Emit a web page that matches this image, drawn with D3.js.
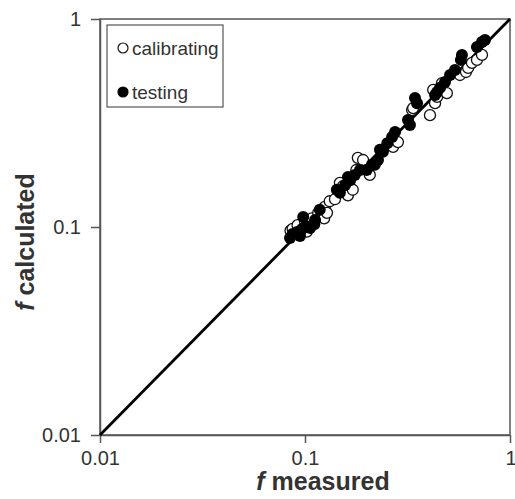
<!DOCTYPE html>
<html>
<head>
<meta charset="utf-8">
<script src="https://cdn.jsdelivr.net/npm/d3@7"></script>
<style>
  body { margin: 0; background: #fff; }
  text { font-family: "Liberation Sans", Arial, sans-serif; fill: #333; }
</style>
</head>
<body>
<svg id="chart" width="515" height="499"></svg>
<script>
let width = 515,
  height = 499;
let margin = { left: 100, right: 5, top: 19, bottom: 64 };

// calibrating data set: [f measured, f calculated]
let calibrating = [
  [0.085, 0.096], [0.087, 0.098], [0.092, 0.102], [0.100, 0.106], [0.102, 0.095],
  [0.108, 0.110], [0.116, 0.117], [0.121, 0.112], [0.124, 0.110], [0.125, 0.125],
  [0.128, 0.117], [0.132, 0.133], [0.140, 0.136], [0.148, 0.163], [0.153, 0.157],
  [0.162, 0.142], [0.171, 0.151], [0.178, 0.188], [0.181, 0.215], [0.192, 0.210],
  [0.207, 0.178], [0.269, 0.243], [0.284, 0.256], [0.333, 0.365], [0.337, 0.373],
  [0.407, 0.345], [0.431, 0.394], [0.441, 0.422], [0.422, 0.456], [0.466, 0.492],
  [0.492, 0.440], [0.570, 0.538], [0.610, 0.556], [0.625, 0.582], [0.652, 0.615],
  [0.690, 0.636], [0.730, 0.672]
];

// testing data set: [f measured, f calculated]
let testing = [
  [0.0845, 0.0886], [0.087, 0.0925], [0.0915, 0.0946], [0.0946, 0.0905], [0.0967, 0.0978],
  [0.101, 0.101], [0.106, 0.099], [0.111, 0.103], [0.112, 0.108], [0.098, 0.1117],
  [0.118, 0.121], [0.143, 0.151], [0.148, 0.146], [0.157, 0.159], [0.162, 0.174],
  [0.166, 0.168], [0.175, 0.178], [0.1855, 0.188], [0.200, 0.188], [0.212, 0.199],
  [0.219, 0.199], [0.227, 0.210], [0.232, 0.235], [0.240, 0.230], [0.252, 0.253],
  [0.266, 0.271], [0.275, 0.286], [0.318, 0.327], [0.325, 0.309], [0.344, 0.417],
  [0.352, 0.394], [0.431, 0.431], [0.441, 0.446], [0.456, 0.467], [0.482, 0.498],
  [0.510, 0.538], [0.539, 0.569], [0.576, 0.636], [0.583, 0.672], [0.690, 0.734],
  [0.730, 0.776], [0.755, 0.793]
];

let ticks = [0.01, 0.1, 1];
let tick_labels = ["0.01", "0.1", "1"];
let one_to_one = [0.01, 1];

let svg = d3.select("#chart");

let scales = {
  x: d3.scaleLog().domain([0.01, 1]).range([margin.left, width - margin.right]),
  y: d3.scaleLog().domain([0.01, 1]).range([height - margin.bottom, margin.top])
};

let axis = {
  x: d3.axisBottom(scales.x).tickValues(ticks).tickFormat((d, i) => tick_labels[i])
    .tickSizeInner(8).tickSizeOuter(0).tickPadding(8),
  y: d3.axisLeft(scales.y).tickValues(ticks).tickFormat((d, i) => tick_labels[i])
    .tickSizeInner(9).tickSizeOuter(0).tickPadding(10)
};

// frame
svg.append("rect")
  .attr("x", scales.x(0.01))
  .attr("y", scales.y(1))
  .attr("width", scales.x(1) - scales.x(0.01))
  .attr("height", scales.y(0.01) - scales.y(1))
  .attr("fill", "none")
  .attr("stroke", "#555")
  .attr("stroke-width", 1.5);

let gx = svg.append("g")
  .attr("transform", `translate(0,${scales.y(0.01)})`)
  .call(axis.x);
let gy = svg.append("g")
  .attr("transform", `translate(${scales.x(0.01)},0)`)
  .call(axis.y);

[gx, gy].forEach(g => {
  g.select(".domain").attr("stroke", "#555").attr("stroke-width", 1.5);
  g.selectAll(".tick line").attr("stroke", "#555").attr("stroke-width", 1.5);
  g.selectAll(".tick text")
    .attr("font-family", "Liberation Sans, Arial, sans-serif")
    .attr("font-size", 20)
    .attr("fill", "#333");
});
gx.selectAll(".tick text").filter(d => d == 1).attr("text-anchor", "end").attr("dx", 6);

// 1:1 line
let line_gen = d3.line()
  .x(d => scales.x(d))
  .y(d => scales.y(d));

svg.append("path")
  .attr("d", line_gen(one_to_one))
  .attr("stroke", "#000")
  .attr("stroke-width", 2.8)
  .attr("fill", "none");

// points
svg.append("g").selectAll("circle")
  .data(calibrating).enter()
  .append("circle")
  .attr("cx", d => scales.x(d[0]))
  .attr("cy", d => scales.y(d[1]))
  .attr("r", 5.5)
  .attr("fill", "#fff")
  .attr("stroke", "#111")
  .attr("stroke-width", 1.3);

svg.append("g").selectAll("circle")
  .data(testing).enter()
  .append("circle")
  .attr("cx", d => scales.x(d[0]))
  .attr("cy", d => scales.y(d[1]))
  .attr("r", 6)
  .attr("fill", "#000");

// legend
let legend = svg.append("g");
legend.append("rect")
  .attr("x", 107).attr("y", 25)
  .attr("width", 116).attr("height", 82)
  .attr("fill", "#fff")
  .attr("stroke", "#555")
  .attr("stroke-width", 1.2);

let legend_items = [
  { label: "calibrating", fill: "#fff", stroke: "#111" },
  { label: "testing", fill: "#000", stroke: "#000" }
];
legend_items.forEach((item, i) => {
  let y = 48 + i * 44;
  legend.append("circle")
    .attr("cx", 123).attr("cy", y)
    .attr("r", 5)
    .attr("fill", item.fill)
    .attr("stroke", item.stroke)
    .attr("stroke-width", 1.2);
  legend.append("text")
    .attr("x", 132).attr("y", y + 7)
    .attr("font-size", 19)
    .text(item.label);
});

// axis titles
svg.append("text")
  .attr("x", scales.x(0.1) + 18)
  .attr("y", 490)
  .attr("text-anchor", "middle")
  .attr("font-size", 25)
  .attr("font-weight", "bold")
  .html('<tspan font-style="italic">f</tspan> measured');

svg.append("text")
  .attr("transform", `translate(34,242) rotate(-90)`)
  .attr("text-anchor", "middle")
  .attr("font-size", 25)
  .attr("font-weight", "bold")
  .html('<tspan font-style="italic">f</tspan> calculated');
</script>
</body>
</html>
